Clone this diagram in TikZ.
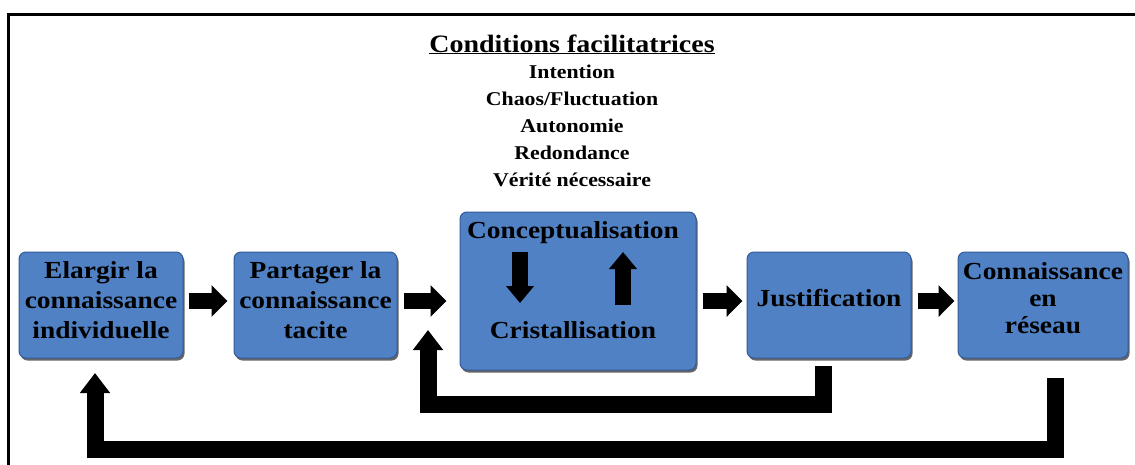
\documentclass[tikz,border=0pt]{standalone}
\usepackage{fontspec}
\setmainfont{Liberation Serif}[FakeStretch=1.12]
\usetikzlibrary{arrows.meta,calc,shadows}
\definecolor{boxblue}{RGB}{79,129,196}
\definecolor{boxedge}{RGB}{52,90,150}
\begin{document}
\begin{tikzpicture}[x=1pt,y=-1pt,
  stagebox/.style={draw=boxedge, line width=1pt, fill=boxblue, rounded corners=7pt,
    drop shadow={shadow xshift=1.5pt, shadow yshift=-2.5pt, fill=black!75, opacity=0.8}},
  boxtext/.style={font=\fontsize{24.5}{29.8}\selectfont\bfseries, align=center, inner sep=0pt},
  listtext/.style={font=\fontsize{19.5}{24}\selectfont\bfseries, anchor=base, inner sep=0pt},
  blockarrow/.style={line width=16pt, -{Triangle[length=16pt,width=31pt]}},
  innerarrow/.style={line width=16pt, -{Triangle[length=17pt,width=27pt]}},
  loopline/.style={line width=17pt, line join=miter, -{Triangle[length=20pt,width=29pt]}},
]
\useasboundingbox (0,0) rectangle (1135,464);
\clip (0,0) rectangle (1135,464);

% outer frame
\draw[line width=2.5pt] (8.5,14.5) rectangle (1160,490);

% heading and list of enabling conditions
\node[font=\fontsize{25}{30}\selectfont\bfseries, anchor=base, inner sep=0pt] (title) at (572,52)
  {\underline{Conditions facilitatrices}};
\node[listtext] (l1) at (572,78)  {Intention};
\node[listtext] (l2) at (572,105) {Chaos/Fluctuation};
\node[listtext] (l3) at (572,132) {Autonomie};
\node[listtext] (l4) at (572,159) {Redondance};
\node[listtext] (l5) at (572,186) {Vérité nécessaire};

% stage boxes
\node[stagebox, minimum width=164pt, minimum height=106pt] (b1) at (101,305) {};
\node[stagebox, minimum width=163pt, minimum height=106pt] (b2) at (315.5,305) {};
\node[stagebox, minimum width=236pt, minimum height=158pt] (b3) at (578,291) {};
\node[stagebox, minimum width=164pt, minimum height=106pt] (b4) at (829,305) {};
\node[stagebox, minimum width=170pt, minimum height=106pt] (b5) at (1043,305) {};

% stage labels
\node[boxtext] (t1) at (101,300) {Elargir la\\connaissance\\individuelle};
\node[boxtext] (t2) at (315.5,300) {Partager la\\connaissance\\tacite};
\node[boxtext] (t3a) at (573,233) {Conceptualisation};
\node[boxtext] (t3b) at (573,330) {Cristallisation};
\node[boxtext] (t4) at (829,298) {Justification};
\node[boxtext, font=\fontsize{24.5}{27}\selectfont\bfseries] (t5) at (1043,298) {Connaissance\\en\\réseau};

% forward arrows between stages
\coordinate (r) at (0,301);
\draw[blockarrow] ($(b1.east|-r)+(5,0)$) -- ($(b2.west|-r)+(-6,0)$);
\draw[blockarrow] ($(b2.east|-r)+(6,0)$) -- ($(b3.west|-r)+(-13,0)$);
\draw[blockarrow] ($(b3.east|-r)+(6,0)$) -- ($(b4.west|-r)+(-4,0)$);
\draw[blockarrow] ($(b4.east|-r)+(6,0)$) -- ($(b5.west|-r)+(-3,0)$);

% arrows inside the central stage
\coordinate (dtop) at (520,252);
\coordinate (dtip) at (520,303);
\coordinate (ubot) at (623,305);
\coordinate (utip) at (623,252);
\draw[innerarrow] (dtop) -- (dtip);
\draw[innerarrow] (ubot) -- (utip);

% feedback loops
\coordinate (fb1) at (428,330);
\draw[loopline] ($(b4.south)+(-6,7)$) |- ($(fb1)+(0,74)$) -- (fb1);
\coordinate (fb2) at (95,373);
\draw[loopline] ($(b5.south)+(12,19)$) |- ($(fb2)+(0,76)$) -- (fb2);
\end{tikzpicture}
\end{document}
